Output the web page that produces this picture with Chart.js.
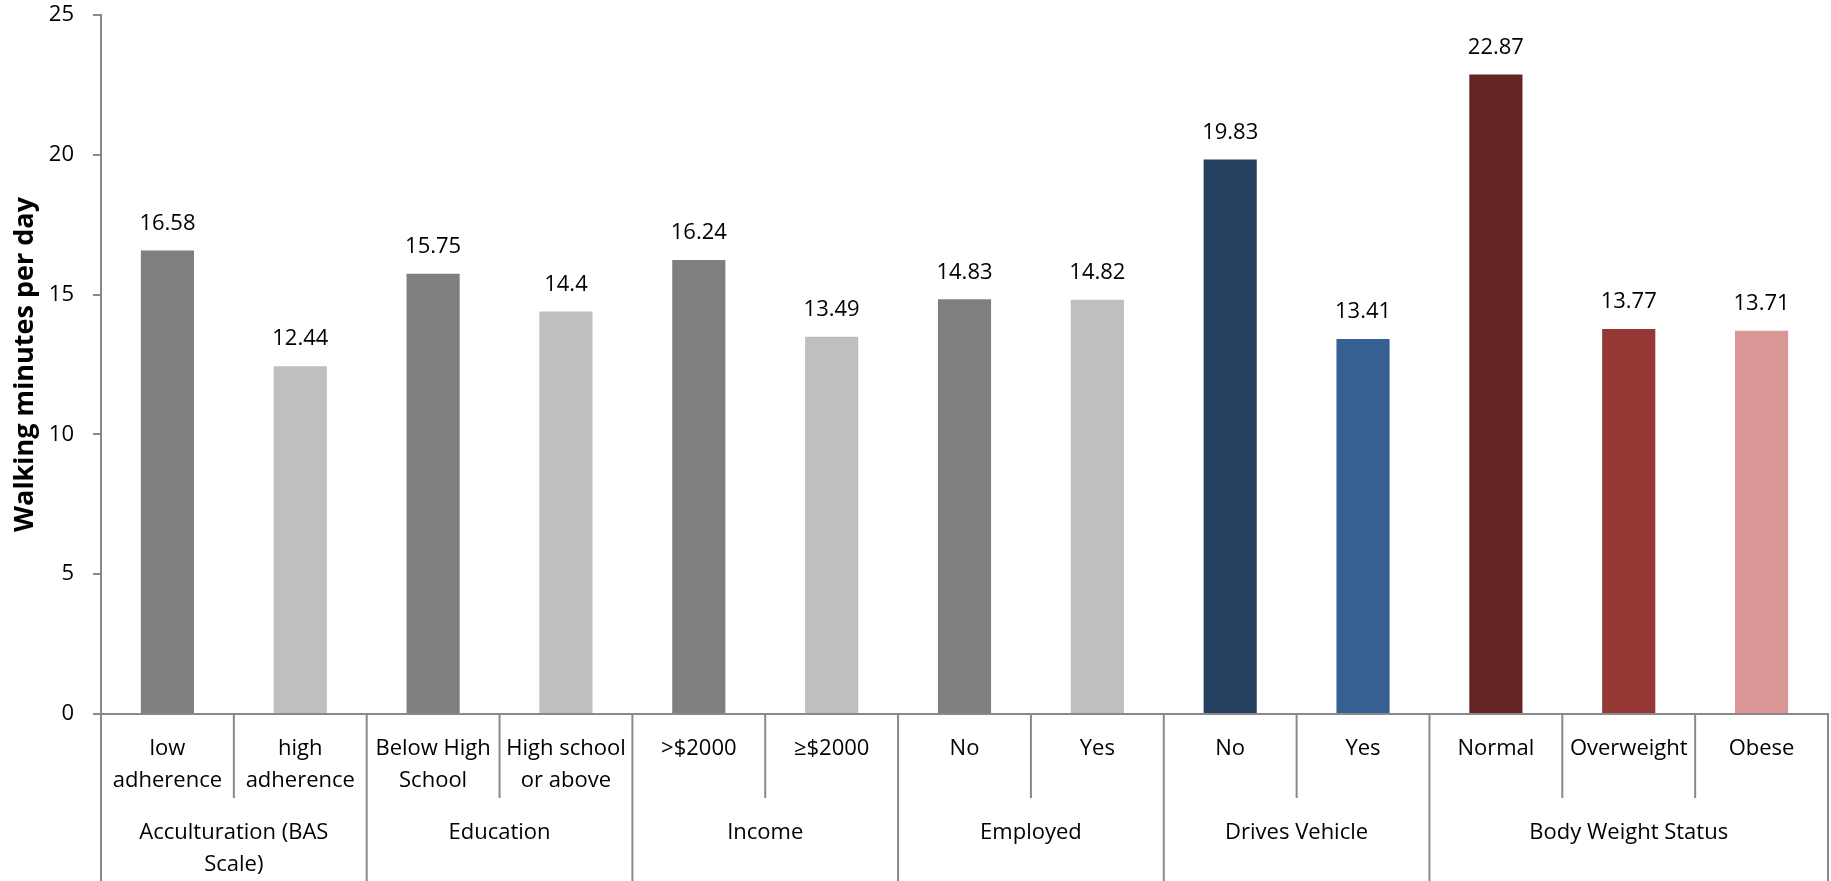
<!DOCTYPE html>
<html>
<head>
<meta charset="utf-8">
<script src="https://cdn.jsdelivr.net/npm/chart.js@4.4.0/dist/chart.umd.min.js"></script>
<style>
  html, body { margin: 0; padding: 0; background: #fff; }
</style>
</head>
<body>
<canvas id="myChart" width="1831" height="881"></canvas>
<script>
// values
const categories = [['low', 'adherence'], ['high', 'adherence'], ['Below High', 'School'], ['High school', 'or above'],
  '>$2000', '≥$2000', 'No', 'Yes', 'No', 'Yes', 'Normal', 'Overweight', 'Obese']
const groups = [['Acculturation (BAS', 'Scale)'], 'Education', 'Income', 'Employed', 'Drives Vehicle', 'Body Weight Status']
const groupSizes = [2, 2, 2, 2, 2, 3]
const values = [16.58, 12.44, 15.75, 14.4, 16.24, 13.49, 14.83, 14.82, 19.83, 13.41, 22.87, 13.77, 13.71]
const barColors = ['#7f7f7f', '#bfbfbf', '#7f7f7f', '#bfbfbf', '#7f7f7f', '#bfbfbf', '#7f7f7f', '#bfbfbf',
  '#254061', '#376092', '#632523', '#953735', '#d99694']
const yMin = 0
const yMax = 25
const yStep = 5
const yTitle = 'Walking minutes per day'

const FONT = "'Open Sans', sans-serif"
const axisColor = '#898989'

// value labels above the bars
const barLabels = {
  id: 'barLabels',
  afterDatasetsDraw(chart) {
    const ctx = chart.ctx
    const meta = chart.getDatasetMeta(0)
    ctx.save()
    ctx.font = "22px " + FONT
    ctx.fillStyle = '#000'
    ctx.textAlign = 'center'
    ctx.textBaseline = 'middle'
    meta.data.forEach((bar, i) => {
      ctx.fillText(String(values[i]), bar.x, bar.y - 27)
    })
    ctx.restore()
  }
}

// divider lines and group names under the category labels
const groupAxis = {
  id: 'groupAxis',
  afterDraw(chart) {
    const ctx = chart.ctx
    const x = chart.scales.x
    const top = chart.chartArea.bottom
    const half = (x.getPixelForValue(1) - x.getPixelForValue(0)) / 2
    const innerEnd = 798
    const bottom = chart.height
    ctx.save()
    ctx.strokeStyle = axisColor
    ctx.lineWidth = 2
    ctx.font = "22px " + FONT
    ctx.fillStyle = '#000'
    ctx.textAlign = 'center'
    ctx.textBaseline = 'middle'
    let idx = 0
    groupSizes.forEach((n, g) => {
      const left = x.getPixelForValue(idx) - half
      const right = x.getPixelForValue(idx + n - 1) + half
      // group edge
      ctx.beginPath()
      ctx.moveTo(left, top)
      ctx.lineTo(left, bottom)
      ctx.stroke()
      // inner dividers
      for (let k = 1; k < n; k++) {
        const px = x.getPixelForValue(idx + k) - half
        ctx.beginPath()
        ctx.moveTo(px, top)
        ctx.lineTo(px, innerEnd)
        ctx.stroke()
      }
      const lines = [].concat(groups[g])
      lines.forEach((t, j) => {
        ctx.fillText(t, (left + right) / 2, 833 + j * 32)
      })
      idx += n
      if (g === groupSizes.length - 1) {
        ctx.beginPath()
        ctx.moveTo(right, top)
        ctx.lineTo(right, bottom)
        ctx.stroke()
      }
    })
    ctx.restore()
  }
}

const ctx = document.getElementById('myChart')
const chart = new Chart(ctx, {
  type: 'bar',
  data: {
    labels: categories,
    datasets: [{
      data: values,
      backgroundColor: barColors,
      borderWidth: 0,
      barPercentage: 0.4,
      categoryPercentage: 1.0
    }]
  },
  options: {
    responsive: false,
    animation: false,
    layout: { padding: { top: 15, right: 3, left: 0, bottom: 0 } },
    plugins: {
      legend: { display: false },
      tooltip: { enabled: false }
    },
    scales: {
      x: {
        grid: { display: false, drawTicks: false },
        border: { display: true, color: axisColor, width: 2 },
        ticks: {
          color: '#000',
          font: { family: FONT, size: 22, lineHeight: '32px' },
          padding: 19,
          maxRotation: 0,
          autoSkip: false
        },
        afterFit(scale) { scale.height = 167 }
      },
      y: {
        min: yMin,
        max: yMax,
        grid: { display: true, drawOnChartArea: false, drawTicks: true, tickLength: 8, color: axisColor, lineWidth: 2 },
        border: { display: true, color: axisColor, width: 2 },
        ticks: {
          stepSize: yStep,
          color: '#000',
          font: { family: FONT, size: 22 },
          padding: 19
        },
        title: {
          display: true,
          text: yTitle,
          color: '#000',
          font: { family: FONT, size: 27, weight: 'bold' },
          padding: { top: 9, bottom: 0 }
        },
        afterFit(scale) {
          scale.width = 101
          scale.paddingTop = 0
          scale.paddingBottom = 0
        }
      }
    }
  },
  plugins: [barLabels, groupAxis]
})
</script>
</body>
</html>
